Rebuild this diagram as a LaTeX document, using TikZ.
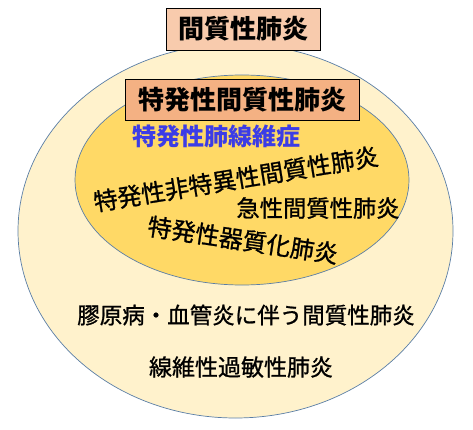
\documentclass[tikz,border=0pt]{standalone}
\usepackage{fontspec}
\setmainfont{Noto Sans CJK JP}
\newfontfamily\jpheavy[FakeBold=1]{Noto Sans CJK JP}
\usepackage{tikz}

\definecolor{outerfill}{HTML}{FFF2CC}
\definecolor{innerfill}{HTML}{FFD966}
\definecolor{rimline}{HTML}{5A7EA6}
\definecolor{toppeach}{HTML}{F8CBAD}
\definecolor{midpeach}{HTML}{F4B183}
\definecolor{fibblue}{HTML}{3C3CE6}

\begin{document}
\begin{tikzpicture}[x=1pt,y=-1pt,
  titlebox/.style={rectangle,draw,line width=0.9pt,inner xsep=6pt,inner ysep=3pt,
    font=\fontsize{26}{28}\selectfont\bfseries},
  disease/.style={inner sep=0pt,font=\fontsize{23}{25}\selectfont\jpheavy}]
\useasboundingbox (0,0) rectangle (473,430);
% the two sets
\fill[outerfill,draw=rimline,line width=0.7pt] (235.5,231) ellipse [x radius=217.5,y radius=187];
\fill[innerfill,draw=rimline,line width=0.7pt] (242,180) ellipse [x radius=167,y radius=105];
% titles
\node [titlebox,fill=toppeach,minimum width=154pt,minimum height=42pt] (ip) at (243,29) {間質性肺炎};
\node [titlebox,fill=midpeach,minimum width=234pt,minimum height=41pt] (iip) at (242,99.5) {特発性間質性肺炎};
% idiopathic ones
\node [disease,font=\fontsize{24}{26}\selectfont\bfseries,text=fibblue] (ipf) at (216,136) {特発性肺線維症};
\node [disease,font=\fontsize{24}{26}\selectfont\jpheavy,rotate=9.3] (nsip) at (236,179) {特発性非特異性間質性肺炎};
\node [disease,font=\fontsize{23.3}{25}\selectfont\jpheavy] (aip) at (318,208) {急性間質性肺炎};
\node [disease,font=\fontsize{24}{26}\selectfont\jpheavy,rotate=-8.5] (cop) at (243,240) {特発性器質化肺炎};
% the others
\node [disease,font=\fontsize{22.5}{25}\selectfont\jpheavy] (ctd) at (246,315) {膠原病・血管炎に伴う間質性肺炎};
\node [disease] (hp) at (241,367) {線維性過敏性肺炎};
\end{tikzpicture}
\end{document}
